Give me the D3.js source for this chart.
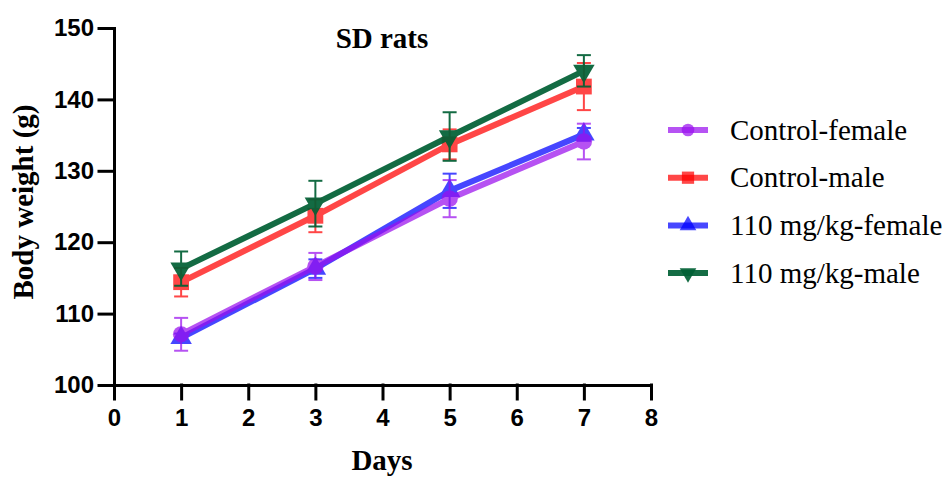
<!DOCTYPE html>
<html>
<head>
<meta charset="utf-8">
<script src="https://cdn.jsdelivr.net/npm/d3@7"></script>
<style>
    body { margin: 0; background: #fff; }
    .axis path, .axis line { stroke: #000; stroke-width: 3; }
    .axis text { font-family: "Liberation Sans", Arial, sans-serif; font-weight: bold; font-size: 24px; fill: #000; }
    .label { font-family: "Liberation Serif", "Times New Roman", serif; font-weight: bold; font-size: 29px; }
    .legend text { font-family: "Liberation Serif", "Times New Roman", serif; font-size: 29px; }
</style>
</head>
<body>
<div id="chart"></div>
<script>
// data
const days = [1, 3, 5, 7];
const seriesNames = ["Control-female", "Control-male", "110 mg/kg-female", "110 mg/kg-male"];
const controlFemale = [107.1, 116.6, 126.1, 134.1];
const controlFemaleSd = [2.3, 1.9, 2.6, 2.5];
const controlMale = [114.4, 123.7, 133.7, 141.8];
const controlMaleSd = [2.0, 2.3, 2.1, 3.3];
const female110 = [106.6, 116.3, 127.2, 135.1];
const female110Sd = [0.6, 1.3, 2.4, 0.9];
const male110 = [116.3, 125.4, 134.8, 144.0];
const male110Sd = [2.4, 3.2, 3.4, 2.2];
const xTicks = [0, 1, 2, 3, 4, 5, 6, 7, 8];
const yTicks = [100, 110, 120, 130, 140, 150];

const width = 946, height = 477;
const margin = {t: 28, l: 114, r: 295, b: 92};

const svg = d3.select("#chart").append("svg")
    .attr("width", width)
    .attr("height", height);

const scale_x = d3.scaleLinear()
    .domain([0, 8])
    .range([margin.l, width - margin.r]);

const scale_y = d3.scaleLinear()
    .domain([100, 150])
    .range([height - margin.b, margin.t]);

// styles per series
const series = [
    {name: seriesNames[0], values: controlFemale, sd: controlFemaleSd, color: "#9a10ee", opacity: 0.72, shape: d3.symbolCircle, size: 210},
    {name: seriesNames[1], values: controlMale, sd: controlMaleSd, color: "#ff0000", opacity: 0.72, shape: d3.symbolSquare, size: 250},
    {name: seriesNames[2], values: female110, sd: female110Sd, color: "#0000ff", opacity: 0.72, shape: d3.symbolTriangle, size: 200},
    {name: seriesNames[3], values: male110, sd: male110Sd, color: "#005f34", opacity: 0.92, shape: d3.symbolTriangle, size: 200, flip: true}
];
// draw order: blue first, then purple, red, green
const drawOrder = [2, 0, 1, 3];

// axes
const axis_x = d3.axisBottom(scale_x)
    .tickValues(xTicks)
    .tickSize(14)
    .tickSizeOuter(0)
    .tickPadding(10)
    .tickFormat(d3.format("d"));

const axis_y = d3.axisLeft(scale_y)
    .tickValues(yTicks)
    .tickSize(15)
    .tickSizeOuter(0)
    .tickPadding(5)
    .tickFormat(d3.format("d"));

svg.append("g")
    .attr("class", "axis axis-y")
    .attr("transform", `translate(${margin.l},0)`)
    .call(axis_y);

svg.append("g")
    .attr("class", "axis axis-x")
    .attr("transform", `translate(0,${height - margin.b})`)
    .call(axis_x);

svg.selectAll(".axis path, .axis line").attr("stroke-linecap", "square");

// titles
svg.append("text")
    .attr("class", "label")
    .attr("x", 382)
    .attr("y", 48)
    .attr("text-anchor", "middle")
    .text("SD rats");

svg.append("text")
    .attr("class", "label")
    .attr("x", 382)
    .attr("y", 470)
    .attr("text-anchor", "middle")
    .text("Days");

svg.append("text")
    .attr("class", "label")
    .attr("transform", `translate(33,202) rotate(-90)`)
    .attr("text-anchor", "middle")
    .text("Body weight (g)");

const line = d3.line()
    .x((d, i) => scale_x(days[i]))
    .y(d => scale_y(d));

const plot = svg.append("g").attr("class", "chart");

drawOrder.forEach(k => {
    const s = series[k];
    const g = plot.append("g").attr("opacity", s.opacity);
    const pts = days.map((d, i) => ({day: d, v: s.values[i], sd: s.sd[i]}));

    // error bars
    const eb = g.selectAll(".err")
        .data(pts)
        .join("g")
        .attr("class", "err")
        .attr("stroke", s.color)
        .attr("stroke-width", 2);
    eb.append("line")
        .attr("x1", d => scale_x(d.day)).attr("x2", d => scale_x(d.day))
        .attr("y1", d => scale_y(d.v - d.sd)).attr("y2", d => scale_y(d.v + d.sd));
    eb.append("line")
        .attr("x1", d => scale_x(d.day) - 7).attr("x2", d => scale_x(d.day) + 7)
        .attr("y1", d => scale_y(d.v + d.sd)).attr("y2", d => scale_y(d.v + d.sd));
    eb.append("line")
        .attr("x1", d => scale_x(d.day) - 7).attr("x2", d => scale_x(d.day) + 7)
        .attr("y1", d => scale_y(d.v - d.sd)).attr("y2", d => scale_y(d.v - d.sd));

    g.append("path")
        .datum(s.values)
        .attr("fill", "none")
        .attr("stroke", s.color)
        .attr("stroke-width", 6)
        .attr("d", line);

    g.selectAll(".dot")
        .data(pts)
        .join("path")
        .attr("class", "dot")
        .attr("fill", s.color)
        .attr("transform", d => `translate(${scale_x(d.day)},${scale_y(d.v)})${s.flip ? " rotate(180)" : ""}`)
        .attr("d", d3.symbol().type(s.shape).size(s.size));
});

// legend
const legend = svg.append("g")
    .attr("class", "legend")
    .attr("transform", "translate(668,130)");

const rows = legend.selectAll(".row")
    .data(series)
    .join("g")
    .attr("class", "row")
    .attr("transform", (d, i) => `translate(0,${i * 47.7})`);

rows.append("line")
    .attr("x1", 0).attr("x2", 40)
    .attr("stroke", d => d.color)
    .attr("stroke-opacity", d => d.opacity)
    .attr("stroke-width", 6);

rows.append("path")
    .attr("fill", d => d.color)
    .attr("fill-opacity", d => d.opacity)
    .attr("transform", d => `translate(20,0)${d.flip ? " rotate(180)" : ""}`)
    .attr("d", d => d3.symbol().type(d.shape).size(d.size * 0.6)());

rows.append("text")
    .attr("x", 62)
    .attr("y", 9.5)
    .attr("fill", "#000")
    .text(d => d.name);
</script>
</body>
</html>
